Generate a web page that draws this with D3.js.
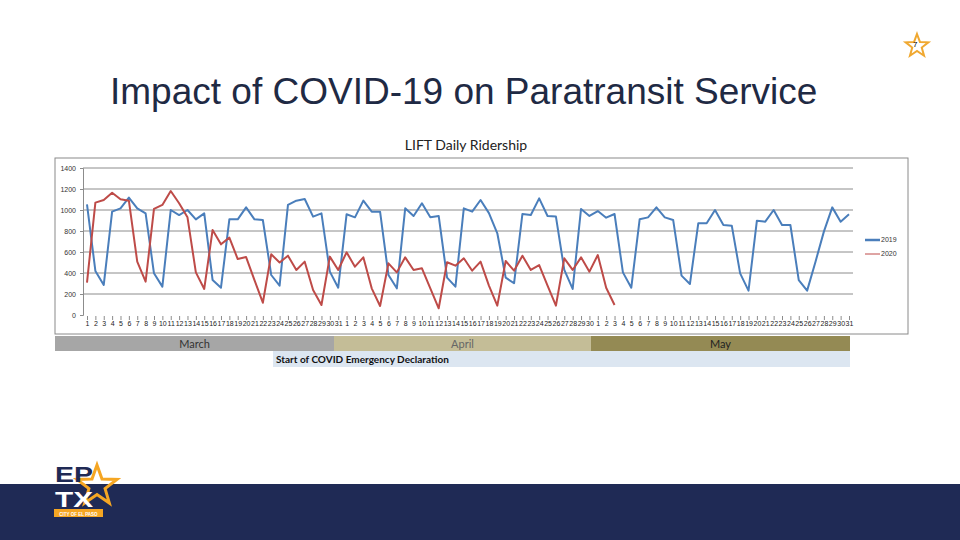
<!DOCTYPE html>
<html>
<head>
<meta charset="utf-8">
<script src="https://cdn.jsdelivr.net/npm/d3@7"></script>
<style>
  body { margin: 0; background: #fff; }
  svg { display: block; }
</style>
</head>
<body>
<div id="slide"></div>
<script>
// daily LIFT ridership, 1 Mar - 31 May
const months = ["March", "April", "May"];
const monthDays = [31, 30, 31];
const yTicks = [0, 200, 400, 600, 800, 1000, 1200, 1400];
const seriesNames = ["2019", "2020"];

const rides2019 = [
  1054, 420, 286, 985, 1016, 1118, 1016, 968, 397, 270, 1000, 952, 1000, 911, 968, 333,
  260, 911, 911, 1025, 911, 905, 381, 280, 1048, 1089, 1105, 937, 968, 413, 260,
  959, 930, 1089, 984, 984, 381, 254, 1016, 943, 1064, 930, 943, 356, 270, 1016,
  984, 1095, 970, 778, 356, 302, 962, 952, 1111, 943, 937, 429, 248, 1010, 943,
  990, 927, 962, 406, 260, 911, 930, 1025, 930, 905, 375, 295, 873, 873, 1000, 857,
  851, 397, 232, 898, 889, 1000, 857, 857, 333, 232, 508, 794, 1025, 889, 959
];
const rides2020 = [
  308, 1070, 1095, 1165, 1102, 1089, 508, 318, 1010, 1048, 1181, 1064, 930, 406, 248, 810,
  673, 737, 533, 552, 333, 117, 578, 500, 565, 429, 508, 238, 95, 556, 429,
  597, 460, 549, 254, 86, 492, 406, 549, 429, 445, 254, 64, 502, 470, 540,
  422, 508, 280, 89, 514, 422, 565, 429, 476, 279, 89, 540, 429, 549, 413,
  571, 260, 95
];

const dayLabels = [];
monthDays.forEach(n => { for (let i = 1; i <= n; i++) dayLabels.push(String(i)); });

const W = 960, H = 540;
const svg = d3.select("#slide").append("svg")
    .attr("width", W).attr("height", H);

// slide title
svg.append("text")
    .attr("x", 110).attr("y", 104)
    .style("font", "37px 'Liberation Sans', Arial, sans-serif")
    .attr("fill", "#1f2a44")
    .text("Impact of COVID-19 on Paratransit Service");

// star helper
function starPath(cx, cy, r1, r2) {
    const pts = d3.range(10).map(i => {
        const a = -Math.PI / 2 + i * Math.PI / 5;
        const r = i % 2 ? r2 : r1;
        return [cx + r * Math.cos(a), cy + r * Math.sin(a)];
    });
    return d3.line()(pts) + "Z";
}

// page number star
svg.append("path")
    .attr("d", starPath(917, 46, 12, 5))
    .attr("fill", "none").attr("stroke", "#f0a830").attr("stroke-width", 2);
svg.append("text")
    .attr("x", 913).attr("y", 47)
    .style("font", "8px 'Liberation Sans', sans-serif")
    .text("7");

// chart frame
svg.append("rect")
    .attr("x", 55).attr("y", 158).attr("width", 853).attr("height", 176)
    .attr("fill", "#fff").attr("stroke", "#8a8a8a").attr("stroke-width", 1);

svg.append("text")
    .attr("x", 466).attr("y", 150)
    .attr("text-anchor", "middle")
    .style("font", "14px Lato, 'Open Sans', sans-serif")
    .attr("fill", "#222")
    .text("LIFT Daily Ridership");

const x = d3.scalePoint()
    .domain(d3.range(dayLabels.length))
    .range([87, 849]);
const y = d3.scaleLinear()
    .domain([0, 1400])
    .range([315, 168]);

// gridlines
svg.append("g")
    .selectAll("line")
    .data(yTicks.filter(d => d > 0))
    .enter().append("line")
    .attr("x1", 83).attr("x2", 853)
    .attr("y1", d => y(d)).attr("y2", d => y(d))
    .attr("stroke", "#8c8c8c").attr("stroke-width", 1);

// y axis
const yAxis = svg.append("g")
    .attr("transform", "translate(83,0)")
    .call(d3.axisLeft(y).tickValues(yTicks).tickSize(3).tickFormat(d3.format("d")));
yAxis.select(".domain").attr("stroke", "#8c8c8c");
yAxis.selectAll(".tick line").attr("stroke", "#8c8c8c");
yAxis.selectAll("text")
    .style("font", "7px 'Liberation Sans', sans-serif")
    .attr("fill", "#333").attr("x", -7);

// x axis
const xAxis = svg.append("g")
    .attr("transform", "translate(0,316)")
    .call(d3.axisBottom(x).tickSize(4).tickFormat(i => dayLabels[i]));
xAxis.select(".domain").remove();
xAxis.selectAll(".tick line").attr("stroke", "#8c8c8c");
xAxis.selectAll("text")
    .style("font", "7px 'Liberation Sans Narrow', 'Liberation Sans', sans-serif")
    .attr("fill", "#222").attr("dy", "0.5em").attr("y", 6);

// lines
const color = d3.scaleOrdinal().domain(seriesNames).range(["#4a7ebb", "#be4b48"]);
const line = d3.line()
    .x((d, i) => x(i))
    .y(d => y(d));

[rides2019, rides2020].forEach((vals, k) => {
    svg.append("path")
        .datum(vals)
        .attr("fill", "none")
        .attr("stroke", color(seriesNames[k]))
        .attr("stroke-width", 2)
        .attr("stroke-linejoin", "round")
        .attr("d", line);
});

// legend
const legend = svg.selectAll(".legend")
    .data(seriesNames)
    .enter().append("g")
    .attr("class", "legend")
    .attr("transform", (d, i) => "translate(865," + (240 + i * 14) + ")");
legend.append("line")
    .attr("x1", 0).attr("x2", 15)
    .attr("stroke", d => color(d))
    .attr("stroke-width", (d, i) => i ? 1 : 2.5);
legend.append("text")
    .attr("x", 16).attr("dy", "0.35em")
    .style("font", "7px 'Liberation Sans', sans-serif")
    .attr("fill", "#333")
    .text(d => d);

// month table under the chart
const cum = [0];
monthDays.forEach(n => cum.push(cum[cum.length - 1] + n));
const band = d3.scaleLinear().domain(cum).range([55, 334, 591, 850]);
const monthFill = d3.scaleOrdinal().domain(months).range(["#a6a6a6", "#c4bd97", "#948a54"]);
const monthText = d3.scaleOrdinal().domain(months).range(["#333", "#666", "#222"]);

const mg = svg.selectAll(".month")
    .data(months)
    .enter().append("g")
    .attr("class", "month");
mg.append("rect")
    .attr("x", (d, i) => band(cum[i]))
    .attr("y", 336)
    .attr("width", (d, i) => band(cum[i + 1]) - band(cum[i]))
    .attr("height", 15)
    .attr("fill", d => monthFill(d));
mg.append("text")
    .attr("x", (d, i) => (band(cum[i]) + band(cum[i + 1])) / 2)
    .attr("y", 347.5)
    .attr("text-anchor", "middle")
    .style("font", "11px Lato, 'Open Sans', sans-serif")
    .attr("fill", d => monthText(d))
    .text(d => d);

svg.append("rect")
    .attr("x", 273).attr("y", 351).attr("width", 577).attr("height", 16)
    .attr("fill", "#dce6f1");
svg.append("text")
    .attr("x", 276).attr("y", 363)
    .style("font", "bold 10px Lato, 'Open Sans', sans-serif")
    .attr("fill", "#111")
    .text("Start of COVID Emergency Declaration");

// footer band
svg.append("rect")
    .attr("x", 0).attr("y", 484).attr("width", W).attr("height", 56)
    .attr("fill", "#1f2a55");

// EPTX logo
const logo = svg.append("g");
logo.append("rect")
    .attr("x", 53).attr("y", 462).attr("width", 42).attr("height", 22)
    .attr("fill", "#fff");
logo.append("path")
    .attr("d", starPath(97, 486, 21, 8.5))
    .attr("fill", "none").attr("stroke", "#f5a623").attr("stroke-width", 3);
logo.append("text")
    .attr("x", 55).attr("y", 482)
    .attr("textLength", 38).attr("lengthAdjust", "spacingAndGlyphs")
    .style("font", "bold 22px 'Liberation Sans', Arial, sans-serif")
    .attr("fill", "#1f2a55")
    .text("EP");
logo.append("text")
    .attr("x", 55).attr("y", 507)
    .attr("textLength", 38).attr("lengthAdjust", "spacingAndGlyphs")
    .style("font", "bold 22px 'Liberation Sans', Arial, sans-serif")
    .attr("fill", "#fff")
    .text("TX");
logo.append("rect")
    .attr("x", 54).attr("y", 509).attr("width", 49).attr("height", 8)
    .attr("fill", "#f5a623");
logo.append("text")
    .attr("x", 78.5).attr("y", 515.5)
    .attr("text-anchor", "middle")
    .style("font", "bold 4.5px 'Liberation Sans', sans-serif")
    .attr("fill", "#fff")
    .text("CITY OF EL PASO");
</script>
</body>
</html>
